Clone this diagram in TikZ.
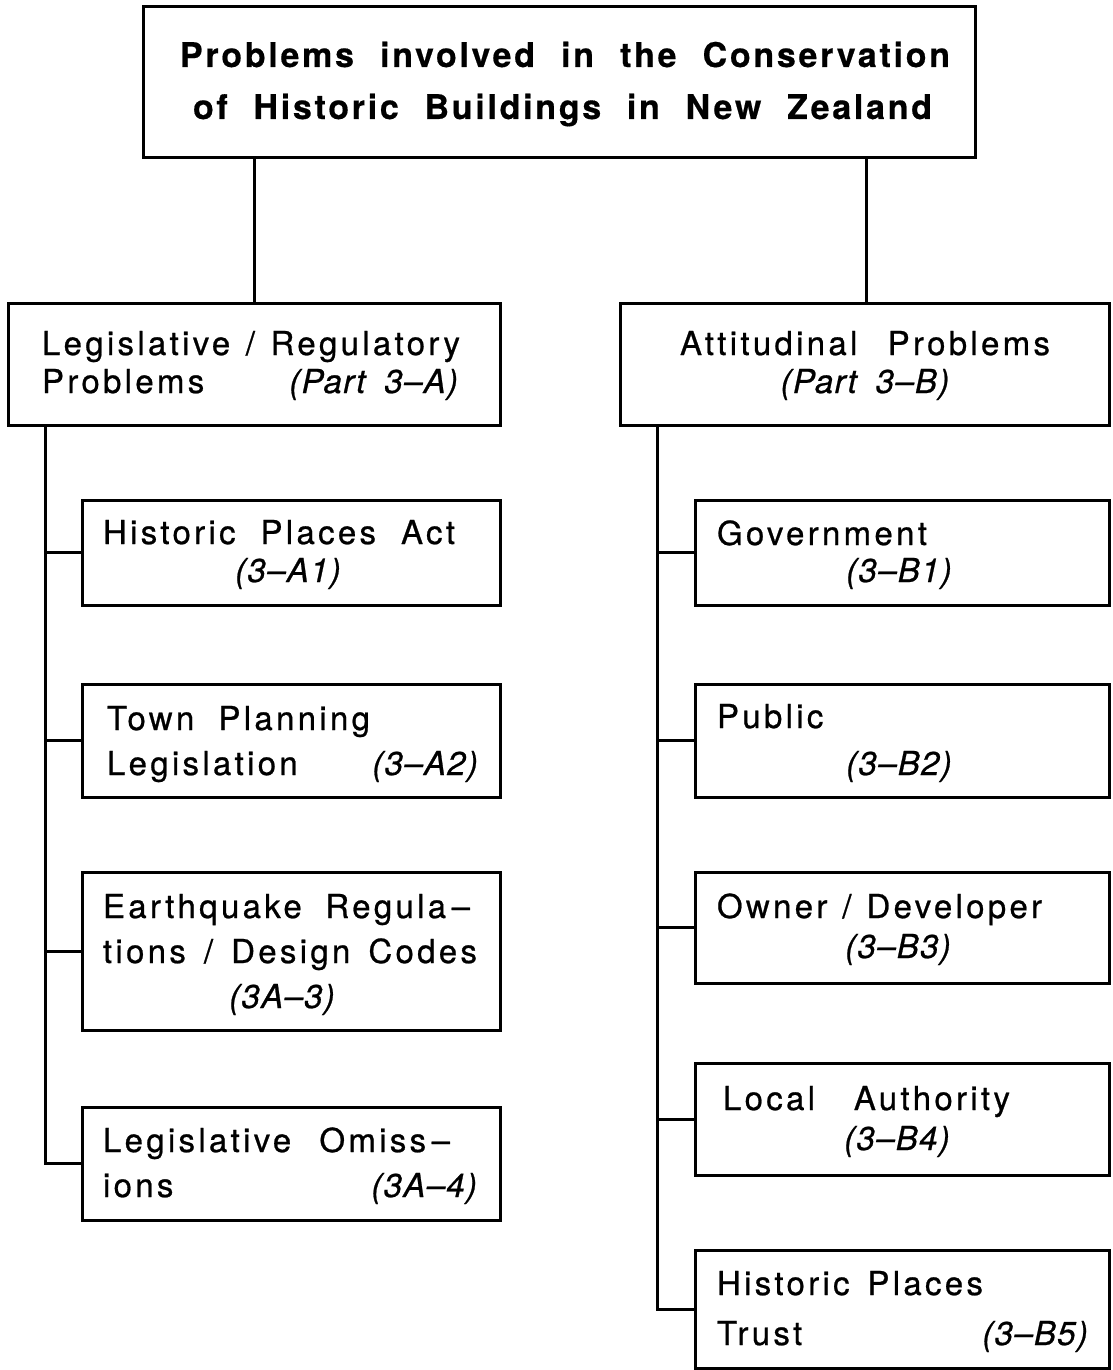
\documentclass[tikz,border=0pt]{standalone}
\usepackage{fontspec}
\setmainfont{TeX Gyre Heros}[LetterSpace=10,FakeBold=0.7,WordSpace=1.8,
  BoldFeatures={LetterSpace=8,FakeBold=0.5},
  ItalicFeatures={LetterSpace=4,FakeBold=0.7}]
\newcommand\sline[2]{\makebox[#1pt][s]{#2}}
\begin{document}
\begin{tikzpicture}[x=1pt,y=-1pt,
  box/.style={draw,line width=3pt,inner sep=0pt,outer sep=0pt},
  link/.style={line width=3pt},
  txt/.style={inner sep=0pt,outer sep=0pt,font=\fontsize{33}{38}\selectfont},
  ttl/.style={inner sep=0pt,outer sep=0pt,font=\fontsize{34}{52}\selectfont\bfseries}]
\useasboundingbox (0,0) rectangle (1112,1370);
\newcommand\boxnode[5]{\node[box,minimum width={#4-#2},minimum height={#5-#3}] (#1) at ({(#2+#4)/2},{(#3+#5)/2}) {};}
% boxes
\boxnode{top}{143}{7}{975}{157}
\boxnode{A}{8}{303}{500}{425}
\boxnode{B}{620}{303}{1109}{425}
\boxnode{a1}{82}{500}{500}{605}
\boxnode{a2}{82}{684}{500}{797}
\boxnode{a3}{82}{872}{500}{1030}
\boxnode{a4}{82}{1107}{500}{1220}
\boxnode{b1}{695}{500}{1109}{605}
\boxnode{b2}{695}{684}{1109}{797}
\boxnode{b3}{695}{872}{1109}{983}
\boxnode{b4}{695}{1063}{1109}{1175}
\boxnode{b5}{695}{1250}{1109}{1368}
% connector columns
\coordinate (cA) at (254,0);
\coordinate (cB) at (866,0);
\coordinate (sA) at (45,0);
\coordinate (sB) at (657,0);
\draw[link] (top.south -| cA) -- (A.north -| cA);
\draw[link] (top.south -| cB) -- (B.north -| cB);
\draw[link] (A.south -| sA) |- (a4.west);
\draw[link] (sA |- a1.west) -- (a1.west);
\draw[link] (sA |- a2.west) -- (a2.west);
\draw[link] (sA |- a3.west) -- (a3.west);
\draw[link] (B.south -| sB) |- (b5.west);
\draw[link] (sB |- b1.west) -- (b1.west);
\draw[link] (sB |- b2.west) -- (b2.west);
\draw[link] (sB |- b3.west) -- (b3.west);
\draw[link] (sB |- b4.west) -- (b4.west);
% texts
\node[ttl,anchor=base west] (t1) at (180,67) {\sline{770}{Problems involved in the Conservation}};
\node[ttl,anchor=base west] (t2) at (193,119) {\sline{739}{of Historic Buildings in New Zealand}};
\node[txt,anchor=base west] (At1) at (42,355) {\sline{418}{Legislative / Regulatory}};
\node[txt,anchor=base west] (At2) at (42,393) {\sline{416}{Problems\hfill\itshape (Part 3–A)}};
\node[txt,anchor=base west] (Bt1) at (680,355) {\sline{370}{Attitudinal Problems}};
\node[txt,anchor=base] (Bt2) at (865,393) {\itshape (Part 3–B)};
\node[txt,anchor=base west] (a1t1) at (103,544) {\sline{352}{Historic Places Act}};
\node[txt,anchor=base] (a1t2) at (288,582) {\itshape (3–A1)};
\node[txt,anchor=base west] (a2t1) at (107,730) {\sline{263}{Town Planning}};
\node[txt,anchor=base west] (a2t2) at (107,775) {\sline{371}{Legislation\hfill\itshape (3–A2)}};
\node[txt,anchor=base west] (a3t1) at (103,918) {\sline{367}{Earthquake Regula\,–}};
\node[txt,anchor=base west] (a3t2) at (103,963) {\sline{374}{tions / Design Codes}};
\node[txt,anchor=base] (a3t3) at (282,1008) {\itshape (3A–3)};
\node[txt,anchor=base west] (a4t1) at (103,1152) {\sline{347}{Legislative Omiss\,–}};
\node[txt,anchor=base west] (a4t2) at (103,1197) {\sline{374}{ions\hfill\itshape (3A–4)}};
\node[txt,anchor=base west] (b1t1) at (717,545) {Government};
\node[txt,anchor=base] (b1t2) at (899,582) {\itshape (3–B1)};
\node[txt,anchor=base west] (b2t1) at (717,728) {Public};
\node[txt,anchor=base] (b2t2) at (899,775) {\itshape (3–B2)};
\node[txt,anchor=base west] (b3t1) at (717,918) {\sline{321}{Owner / Developer}};
\node[txt,anchor=base] (b3t2) at (898,958) {\itshape (3–B3)};
\node[txt,anchor=base west] (b4t1) at (723,1110) {\sline{287}{Local Authority}};
\node[txt,anchor=base] (b4t2) at (897,1150) {\itshape (3–B4)};
\node[txt,anchor=base west] (b5t1) at (717,1295) {\sline{266}{Historic Places}};
\node[txt,anchor=base west] (b5t2) at (717,1345) {\sline{371}{Trust\hfill\itshape (3–B5)}};
\end{tikzpicture}
\end{document}
